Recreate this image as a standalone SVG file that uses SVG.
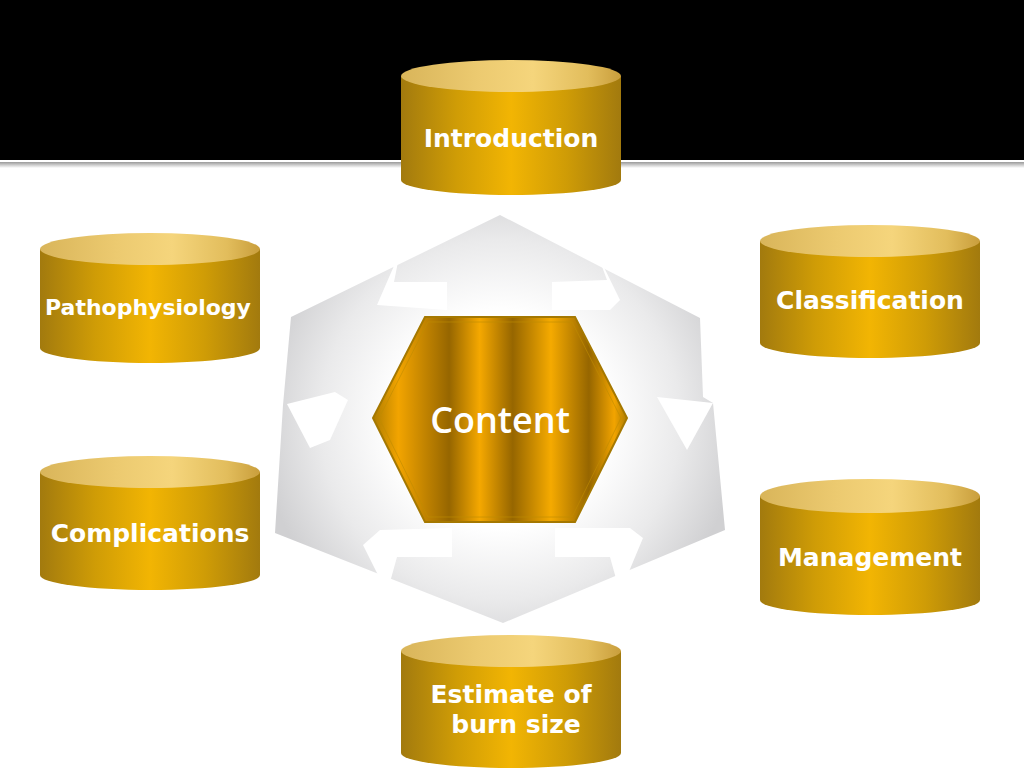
<svg xmlns="http://www.w3.org/2000/svg" width="1024" height="768" viewBox="0 0 1024 768">
<defs>
<linearGradient id="body" x1="0" y1="0" x2="1" y2="0">
<stop offset="0" stop-color="#a27a0e"/>
<stop offset="0.25" stop-color="#cf9c06"/>
<stop offset="0.5" stop-color="#f2b503"/>
<stop offset="0.75" stop-color="#cf9c06"/>
<stop offset="1" stop-color="#a27a0e"/>
</linearGradient>
<linearGradient id="lid" x1="0" y1="0" x2="1" y2="0">
<stop offset="0" stop-color="#d9b55a"/>
<stop offset="0.35" stop-color="#ecca70"/>
<stop offset="0.6" stop-color="#f5d57c"/>
<stop offset="0.85" stop-color="#e2bd5c"/>
<stop offset="1" stop-color="#c99e3c"/>
</linearGradient>
<linearGradient id="hexfill" gradientUnits="userSpaceOnUse" x1="373" y1="0" x2="627" y2="0">
<stop offset="0" stop-color="#b07d00"/>
<stop offset="0.1" stop-color="#f2a400"/>
<stop offset="0.3" stop-color="#966600"/>
<stop offset="0.42" stop-color="#f5a800"/>
<stop offset="0.55" stop-color="#966600"/>
<stop offset="0.7" stop-color="#f5aa00"/>
<stop offset="0.85" stop-color="#966600"/>
<stop offset="0.95" stop-color="#f2a400"/>
<stop offset="1" stop-color="#b07d00"/>
</linearGradient>
<radialGradient id="ring" gradientUnits="userSpaceOnUse" cx="500" cy="420" r="240">
<stop offset="0" stop-color="#ffffff"/>
<stop offset="0.45" stop-color="#ffffff"/>
<stop offset="0.75" stop-color="#eaeaeb"/>
<stop offset="1" stop-color="#d0d0d2"/>
</radialGradient>
<linearGradient id="rule" x1="0" y1="0" x2="0" y2="1">
<stop offset="0" stop-color="#9a9a9a"/>
<stop offset="1" stop-color="#ffffff"/>
</linearGradient>
</defs>
<style>
.lbl{font-family:"DejaVu Sans",Verdana,sans-serif;font-weight:bold;fill:#ffffff;text-anchor:middle;font-size:25px}
.body{fill:url(#body)}
.lid{fill:url(#lid)}
</style>
<rect x="0" y="0" width="1024" height="768" fill="#ffffff"/>
<rect x="0" y="0" width="1024" height="160" fill="#000000"/>
<rect x="0" y="162" width="1024" height="6" fill="url(#rule)"/>

<g id="connectors">
<polygon points="500,215 700,318 703,397 713,403 725,530 503,623 275,533 283,405 291,317" fill="url(#ring)"/>
<g fill="#ffffff">
<polygon points="400,252 394,282 447,282 447,310 377,305"/>
<polygon points="552,282 607,280 597,253 620,300 610,310 552,310"/>
<polygon points="657,397 687,450 713,403"/>
<polygon points="555,528 630,528 643,538 620,593 610,557 555,557"/>
<polygon points="452,528 380,530 363,545 387,593 397,557 452,557"/>
<polygon points="287,404 310,448 330,440 348,400 335,392"/>
</g>
</g>

<g id="center">
<polygon points="425,317 575,317 627,418 575,522 425,522 373,418" fill="url(#hexfill)" stroke="#a57800" stroke-width="2"/>
<polygon points="428,322 572,322 621,418 572,517 428,517 379,418" fill="none" stroke="#c08c00" stroke-width="1" opacity="0.6"/>
<text x="500" y="433" font-family="'Open Sans','Noto Sans',sans-serif" font-size="36" font-weight="600" fill="#ffffff" text-anchor="middle">Content</text>
</g>

<g id="introduction">
<path class="body" d="M401,76 V180 A110,15 0 0 0 621,180 V76 Z"/>
<ellipse class="lid" cx="511" cy="76" rx="110" ry="16"/>
<text class="lbl" x="511" y="147">Introduction</text>
</g>

<g id="pathophysiology">
<path class="body" d="M40,249 V348 A110,15 0 0 0 260,348 V249 Z"/>
<ellipse class="lid" cx="150" cy="249" rx="110" ry="16"/>
<text class="lbl" x="148" y="315" style="font-size:22px">Pathophysiology</text>
</g>

<g id="classification">
<path class="body" d="M760,241 V343 A110,15 0 0 0 980,343 V241 Z"/>
<ellipse class="lid" cx="870" cy="241" rx="110" ry="16"/>
<text class="lbl" x="870" y="309">Classification</text>
</g>

<g id="complications">
<path class="body" d="M40,472 V575 A110,15 0 0 0 260,575 V472 Z"/>
<ellipse class="lid" cx="150" cy="472" rx="110" ry="16"/>
<text class="lbl" x="150" y="542">Complications</text>
</g>

<g id="management">
<path class="body" d="M760,496 V600 A110,15 0 0 0 980,600 V496 Z"/>
<ellipse class="lid" cx="870" cy="496" rx="110" ry="17"/>
<text class="lbl" x="870" y="566">Management</text>
</g>

<g id="estimate">
<path class="body" d="M401,651 V753 A110,15 0 0 0 621,753 V651 Z"/>
<ellipse class="lid" cx="511" cy="651" rx="110" ry="16"/>
<text class="lbl" x="511" y="703">Estimate of</text>
<text class="lbl" x="516" y="733">burn size</text>
</g>
</svg>
